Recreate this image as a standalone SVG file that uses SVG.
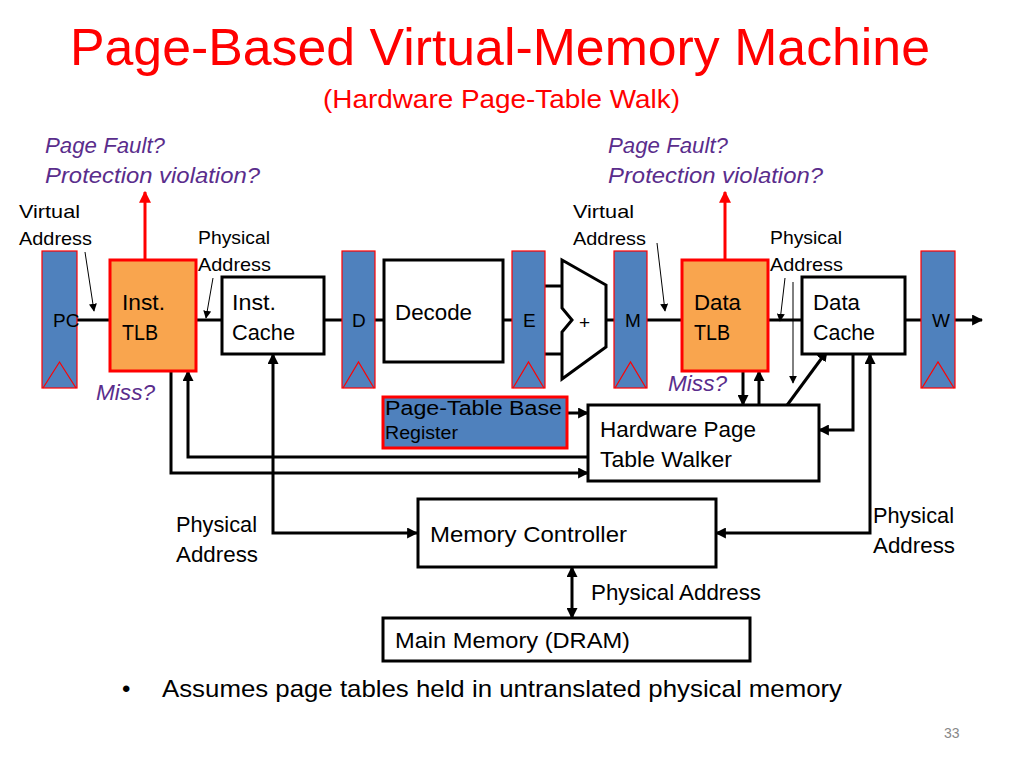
<svg xmlns="http://www.w3.org/2000/svg" width="1024" height="768" viewBox="0 0 1024 768">
<defs>
<marker id="ah" viewBox="0 0 10 10" refX="9" refY="5" markerWidth="11" markerHeight="11" markerUnits="userSpaceOnUse" orient="auto-start-reverse"><path d="M0,0 L10,5 L0,10 z" fill="#000"/></marker>
<marker id="ahr" viewBox="0 0 10 10" refX="9" refY="5" markerWidth="12" markerHeight="12" markerUnits="userSpaceOnUse" orient="auto"><path d="M0,0 L10,5 L0,10 z" fill="#FF0000"/></marker>
<marker id="aht" viewBox="0 0 10 10" refX="9" refY="5" markerWidth="8" markerHeight="8" markerUnits="userSpaceOnUse" orient="auto"><path d="M0,0 L10,5 L0,10 z" fill="#000"/></marker>
</defs>
<style>
text{font-family:"Liberation Sans",Arial,sans-serif;fill:#000}
.title{fill:#FF0000;font-size:52px}
.sub{fill:#FF0000;font-size:26px}
.note{fill:#5A2D8C;font-size:22px;font-style:italic}
.lbl{font-size:19px}
.nt{font-size:22px}
.reg{fill:#4F81BD;stroke:#FF0000;stroke-width:1.2}
.clk{fill:none;stroke:#FF0000;stroke-width:1.2}
.tlb{fill:#F9A54E;stroke:#FF0000;stroke-width:3}
.box{fill:#fff;stroke:#000;stroke-width:3}
.w{fill:none;stroke:#000;stroke-width:3}
.wa{fill:none;stroke:#000;stroke-width:3;marker-end:url(#ah)}
.wb{fill:none;stroke:#000;stroke-width:3;marker-start:url(#ah);marker-end:url(#ah)}
.red{fill:none;stroke:#FF0000;stroke-width:3;marker-end:url(#ahr)}
.thin{fill:none;stroke:#000;stroke-width:1;marker-end:url(#aht)}
</style>
<rect width="1024" height="768" fill="#fff"/>
<text class="title" x="70" y="65" textLength="860" lengthAdjust="spacingAndGlyphs">Page-Based Virtual-Memory Machine</text>
<text class="sub" x="323" y="108" textLength="357" lengthAdjust="spacingAndGlyphs">(Hardware Page-Table Walk)</text>
<text class="note" x="45" y="153" textLength="120" lengthAdjust="spacingAndGlyphs">Page Fault?</text>
<text class="note" x="45" y="183" textLength="215" lengthAdjust="spacingAndGlyphs">Protection violation?</text>
<text class="note" x="608" y="153" textLength="120" lengthAdjust="spacingAndGlyphs">Page Fault?</text>
<text class="note" x="608" y="183" textLength="215" lengthAdjust="spacingAndGlyphs">Protection violation?</text>
<text class="lbl" x="19" y="218" textLength="61" lengthAdjust="spacingAndGlyphs">Virtual</text>
<text class="lbl" x="19" y="245" textLength="73" lengthAdjust="spacingAndGlyphs">Address</text>
<text class="lbl" x="198" y="244" textLength="72" lengthAdjust="spacingAndGlyphs">Physical</text>
<text class="lbl" x="198" y="271" textLength="73" lengthAdjust="spacingAndGlyphs">Address</text>
<text class="lbl" x="573" y="218" textLength="61" lengthAdjust="spacingAndGlyphs">Virtual</text>
<text class="lbl" x="573" y="245" textLength="73" lengthAdjust="spacingAndGlyphs">Address</text>
<text class="lbl" x="770" y="244" textLength="72" lengthAdjust="spacingAndGlyphs">Physical</text>
<text class="lbl" x="770" y="271" textLength="73" lengthAdjust="spacingAndGlyphs">Address</text>
<text class="note" x="96" y="400" textLength="59" lengthAdjust="spacingAndGlyphs">Miss?</text>
<text class="note" x="668" y="391" textLength="59" lengthAdjust="spacingAndGlyphs">Miss?</text>
<text class="nt" x="176" y="532" textLength="81" lengthAdjust="spacingAndGlyphs">Physical</text>
<text class="nt" x="176" y="562" textLength="82" lengthAdjust="spacingAndGlyphs">Address</text>
<text class="nt" x="873" y="523" textLength="81" lengthAdjust="spacingAndGlyphs">Physical</text>
<text class="nt" x="873" y="553" textLength="82" lengthAdjust="spacingAndGlyphs">Address</text>
<text class="nt" x="591" y="600" textLength="170" lengthAdjust="spacingAndGlyphs">Physical Address</text>
<text style="font-size:24px" x="122" y="697">•</text>
<text style="font-size:24px" x="162" y="697" textLength="680" lengthAdjust="spacingAndGlyphs">Assumes page tables held in untranslated physical memory</text>
<text style="font-size:14px;fill:#888" x="944" y="738">33</text>

<g id="connectors">
<line class="w" x1="77" y1="320" x2="110" y2="320"/>
<line class="w" x1="196" y1="320" x2="222" y2="320"/>
<line class="w" x1="324" y1="320" x2="342" y2="320"/>
<line class="w" x1="375" y1="320" x2="384" y2="320"/>
<line class="w" x1="503" y1="320" x2="512" y2="320"/>
<line class="w" x1="545" y1="286" x2="562" y2="286"/>
<line class="w" x1="545" y1="354" x2="562" y2="354"/>
<line class="w" x1="606" y1="320" x2="614" y2="320"/>
<line class="w" x1="647" y1="320" x2="682" y2="320"/>
<line class="w" x1="768" y1="320" x2="802" y2="320"/>
<line class="w" x1="905" y1="320" x2="921" y2="320"/>
<line class="wa" x1="955" y1="320" x2="982" y2="320"/>
<line class="red" x1="145" y1="260" x2="145" y2="192"/>
<line class="red" x1="725" y1="260" x2="725" y2="192"/>
<line class="thin" x1="85" y1="252" x2="94" y2="311"/>
<line class="thin" x1="213" y1="278" x2="206" y2="318"/>
<line class="thin" x1="657" y1="243" x2="665" y2="311"/>
<line class="thin" x1="785" y1="278" x2="780" y2="321"/>
<line class="thin" x1="793" y1="282" x2="793" y2="383"/>
<path class="wa" d="M171,371 V473 H588"/>
<path class="wa" d="M588,457 H188 V371"/>
<path class="wb" d="M273,354 V533 H417"/>
<path class="wa" d="M563,413 H588"/>
<path class="wa" d="M743,371 V405"/>
<path class="wa" d="M759,405 V371"/>
<path class="wa" d="M785,408 L827,351"/>
<path class="wa" d="M853,354 V430 H819"/>
<path class="wb" d="M870,354 V533 H716"/>
<path class="wb" d="M572,567 V618"/>
</g>

<g id="pc">
<rect class="reg" x="42" y="251" width="35" height="137"/>
<polyline class="clk" points="43,388 59.5,362 76,388"/>
<text class="lbl" x="53" y="327">PC</text>
</g>
<g id="inst-tlb">
<rect class="tlb" x="110" y="260" width="86" height="111"/>
<text class="nt" x="122" y="310" textLength="43" lengthAdjust="spacingAndGlyphs">Inst.</text>
<text class="nt" x="122" y="340" textLength="36" lengthAdjust="spacingAndGlyphs">TLB</text>
</g>
<g id="inst-cache">
<rect class="box" x="222" y="277" width="102" height="77"/>
<text class="nt" x="232" y="310" textLength="44" lengthAdjust="spacingAndGlyphs">Inst.</text>
<text class="nt" x="232" y="340" textLength="63" lengthAdjust="spacingAndGlyphs">Cache</text>
</g>
<g id="d-reg">
<rect class="reg" x="342" y="251" width="33" height="137"/>
<polyline class="clk" points="343,388 358.5,362 374,388"/>
<text class="lbl" x="352" y="327">D</text>
</g>
<g id="decode">
<rect class="box" x="384" y="260" width="119" height="102"/>
<text class="nt" x="395" y="320" textLength="77" lengthAdjust="spacingAndGlyphs">Decode</text>
</g>
<g id="e-reg">
<rect class="reg" x="512" y="251" width="33" height="137"/>
<polyline class="clk" points="513,388 528.5,362 544,388"/>
<text class="lbl" x="523" y="327">E</text>
</g>
<g id="alu">
<polygon points="562,260 606,285 606,347 562,379 562,332 572,320 562,308" fill="#fff" stroke="#000" stroke-width="3"/>
<text class="lbl" x="579" y="329">+</text>
</g>
<g id="m-reg">
<rect class="reg" x="614" y="251" width="33" height="137"/>
<polyline class="clk" points="615,388 630.5,362 646,388"/>
<text class="lbl" x="625" y="327">M</text>
</g>
<g id="data-tlb">
<rect class="tlb" x="682" y="260" width="86" height="111"/>
<text class="nt" x="694" y="310" textLength="47" lengthAdjust="spacingAndGlyphs">Data</text>
<text class="nt" x="694" y="340" textLength="36" lengthAdjust="spacingAndGlyphs">TLB</text>
</g>
<g id="data-cache">
<rect class="box" x="802" y="277" width="103" height="77"/>
<text class="nt" x="813" y="310" textLength="47" lengthAdjust="spacingAndGlyphs">Data</text>
<text class="nt" x="813" y="340" textLength="62" lengthAdjust="spacingAndGlyphs">Cache</text>
</g>
<g id="w-reg">
<rect class="reg" x="921" y="251" width="34" height="137"/>
<polyline class="clk" points="922,388 938,362 954,388"/>
<text class="lbl" x="932" y="327">W</text>
</g>
<g id="ptbr">
<rect x="383" y="397" width="184" height="51" fill="#4F81BD" stroke="#FF0000" stroke-width="3"/>
<text x="385" y="415" style="font-size:20px" textLength="177" lengthAdjust="spacingAndGlyphs">Page-Table Base</text>
<text x="385" y="439" style="font-size:18px" textLength="73" lengthAdjust="spacingAndGlyphs">Register</text>
</g>
<g id="walker">
<rect class="box" x="588" y="405" width="231" height="76"/>
<text class="nt" x="600" y="437" textLength="156" lengthAdjust="spacingAndGlyphs">Hardware Page</text>
<text class="nt" x="600" y="467" textLength="132" lengthAdjust="spacingAndGlyphs">Table Walker</text>
</g>
<g id="memctrl">
<rect class="box" x="418" y="499" width="298" height="68"/>
<text class="nt" x="430" y="542" textLength="197" lengthAdjust="spacingAndGlyphs">Memory Controller</text>
</g>
<g id="mainmem">
<rect class="box" x="383" y="618" width="367" height="43"/>
<text class="nt" x="395" y="648" textLength="235" lengthAdjust="spacingAndGlyphs">Main Memory (DRAM)</text>
</g>
</svg>
